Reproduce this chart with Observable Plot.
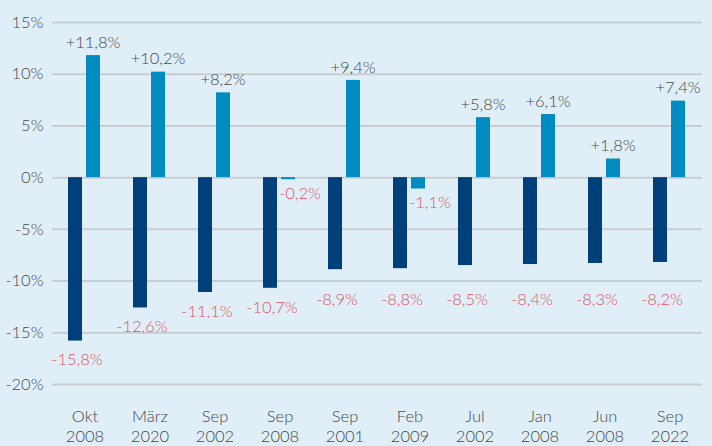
<!DOCTYPE html>
<html>
<head>
<meta charset="utf-8">
<script src="https://cdn.jsdelivr.net/npm/d3@7"></script>
<script src="https://cdn.jsdelivr.net/npm/@observablehq/plot@0.6"></script>
<style>
  html, body { margin: 0; padding: 0; background: #e0eff7; }
  #chart svg { display: block; }
  #chart svg text { font-weight: 300; }
</style>
</head>
<body>
<div id="chart"></div>
<script>
const months = ["Okt", "März", "Sep", "Sep", "Sep", "Feb", "Jul", "Jan", "Jun", "Sep"];
const years = ["2008", "2020", "2002", "2008", "2001", "2009", "2002", "2008", "2008", "2022"];
const drop = [-15.8, -12.6, -11.1, -10.7, -8.9, -8.8, -8.5, -8.4, -8.3, -8.2];
const after = [11.8, 10.2, 8.2, -0.2, 9.4, -1.1, 5.8, 6.1, 1.8, 7.4];
const yTicks = [-20, -15, -10, -5, 0, 5, 10, 15];

const categories = months.map((m, i) => m + "\n" + years[i]);
const rows = categories.map((c, i) => ({cat: c, drop: drop[i], after: after[i]}));

const fmtPct = v => (v > 0 ? "+" : v < 0 ? "-" : "") + Math.abs(v).toFixed(1).replace(".", ",") + "%";
const fmtTick = v => (v < 0 ? "-" : "") + Math.abs(v) + "%";

const font = "Lato, 'Open Sans', sans-serif";
const grey = "#45494d";
const red = "#de5462";

const chart = Plot.plot({
  width: 712,
  height: 446,
  marginLeft: 52,
  marginRight: 10,
  marginTop: 22,
  marginBottom: 62,
  style: {background: "#e0eff7", fontFamily: font, fontSize: "16px", color: grey},
  x: {domain: categories, padding: 0, label: null},
  y: {domain: [-20, 15], label: null},
  marks: [
    Plot.ruleY(yTicks, {stroke: "#c9cdd0", strokeWidth: 2}),
    Plot.axisY({ticks: yTicks, tickSize: 0, tickPadding: 9, tickFormat: fmtTick, fontSize: 16.5, fill: grey, label: null}),
    Plot.axisX({tickSize: 0, tickPadding: 23, fontSize: 16.5, fill: grey, lineHeight: 1.24, label: null}),
    Plot.barY(rows, {x: "cat", y: "drop", fill: "#00407a", insetLeft: 16, insetRight: 35}),
    Plot.barY(rows, {x: "cat", y: "after", fill: "#008cc0", insetLeft: 34, insetRight: 17}),
    // positive labels above light bars
    Plot.text(rows.filter(d => d.after > 0), {x: "cat", y: "after", text: d => fmtPct(d.after), dx: 8, dy: -13, fill: grey, fontSize: 16.5, lineAnchor: "middle"}),
    // negative labels under light bars
    Plot.text(rows.filter(d => d.after < 0), {x: "cat", y: "after", text: d => fmtPct(d.after), dx: 20, dy: 14, fill: red, fontSize: 16.5, lineAnchor: "middle"}),
    // labels under dark bars
    Plot.text(rows, {x: "cat", y: d => Math.min(d.drop, -10), text: d => fmtPct(d.drop), dx: -8, dy: 19, fill: red, fontSize: 16.5, lineAnchor: "middle"})
  ]
});
document.getElementById("chart").appendChild(chart);
</script>
</body>
</html>
